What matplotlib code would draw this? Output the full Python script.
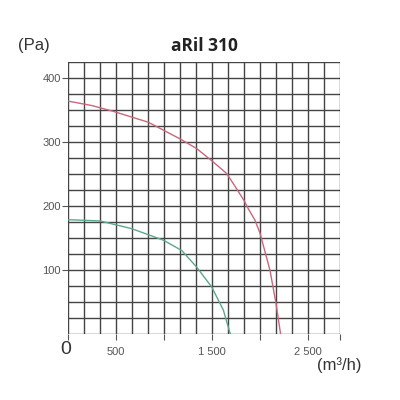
import matplotlib.pyplot as plt

# aRil 310 fan curves
flow_red = [0, 250, 472, 837, 1167, 1340, 1497, 1653, 1757, 1833, 1878, 1948, 2000, 2104, 2167, 2215]
pa_red = [364, 357, 348, 331, 305, 290, 271, 251, 227, 209, 196, 178, 158, 100, 48, 0]

flow_green = [0, 333, 663, 993, 1184, 1340, 1497, 1618, 1688, 1695]
pa_green = [179, 177, 165, 147, 131, 105, 74, 38, 2, 0]

x_labels = [500, 1500, 2500]
x_minor = [0, 1000, 2000]
y_labels = [100, 200, 300, 400]

cell_x = 500 / 3
cell_y = 25
xmax = 17 * cell_x
ymax = 17 * cell_y

plt.rcParams['font.family'] = ['Liberation Sans', 'DejaVu Sans']

fig = plt.figure(figsize=(4, 4), dpi=100)
ax = fig.add_axes([0.17, 0.164, 0.68, 0.681])

# grid
for i in range(18):
    ax.axvline(i * cell_x, color='#444444', lw=1.0, zorder=1)
    ax.axhline(i * cell_y, color='#444444', lw=1.0, zorder=1)

ax.plot(flow_red, pa_red, color='#c8687c', lw=1.0, zorder=3)
ax.plot(flow_green, pa_green, color='#5ea88a', lw=1.0, zorder=3)

ax.set_xlim(0, xmax)
ax.set_ylim(0, ymax)
for s in ax.spines.values():
    s.set_visible(False)

ax.set_xticks(x_labels)
ax.set_xticklabels(['{:,}'.format(v).replace(',', ' ') for v in x_labels])
ax.set_xticks(x_minor + [xmax], minor=True)
ax.set_yticks(y_labels)
ax.tick_params(axis='both', which='both', length=4, width=0.8, color='#555555',
               labelsize=8, labelcolor='#555555')
ax.tick_params(axis='x', pad=5)
ax.tick_params(axis='y', pad=1)

fig.text(0.045, 0.887, '(Pa)', fontsize=12, color='#333333', va='center')
fig.text(0.512, 0.885, 'aRil 310', fontsize=12.5, fontweight='bold',
         family=['Open Sans', 'DejaVu Sans'], color='#222222', ha='center', va='center')
fig.text(0.163, 0.125, '0', fontsize=14, color='#333333', ha='center', va='center')
fig.text(0.905, 0.088, '(m³/h)', fontsize=12, color='#333333', ha='right', va='center')

plt.savefig('out.png', dpi=100)
